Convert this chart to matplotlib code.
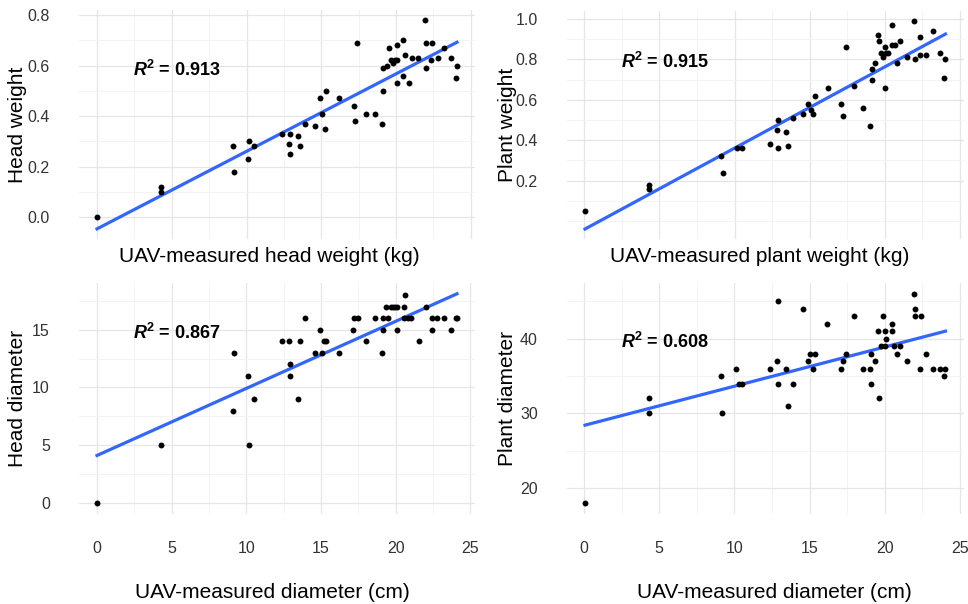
import matplotlib
matplotlib.use("Agg")
import matplotlib.pyplot as plt
import numpy as np

plt.rcParams['font.family'] = ['Liberation Sans', 'DejaVu Sans']
plt.rcParams['mathtext.fontset'] = 'custom'
plt.rcParams['mathtext.bf'] = 'Liberation Sans:bold'
plt.rcParams['mathtext.bfit'] = 'Liberation Sans:bold:italic'

# head weight vs UAV diameter
x_hw = [0, 4.29, 4.3, 9.09, 9.19, 10.1, 10.2, 10.5, 12.38, 12.89, 12.82, 12.94, 13.43, 13.58,
        13.9, 14.56, 14.9, 15.05, 15.23, 15.34, 16.2, 17.16, 17.4, 17.25, 17.96, 18.58, 19.05,
        19.14, 19.12, 19.37, 19.52, 19.65, 19.81, 19.92, 20.06, 20.06, 20.04, 20.5, 20.5, 20.62,
        20.84, 21.04, 21.5, 21.96, 22.0, 22.38, 22.03, 22.34, 22.79, 23.23, 23.7, 24.08, 24.0]
y_hw = [0.0, 0.12, 0.10, 0.28, 0.18, 0.23, 0.30, 0.28, 0.33, 0.33, 0.29, 0.25, 0.32, 0.28,
        0.37, 0.36, 0.47, 0.41, 0.35, 0.50, 0.47, 0.44, 0.69, 0.38, 0.41, 0.41, 0.37,
        0.50, 0.59, 0.60, 0.67, 0.62, 0.61, 0.62, 0.62, 0.68, 0.53, 0.70, 0.56, 0.64,
        0.53, 0.63, 0.63, 0.78, 0.69, 0.69, 0.59, 0.62, 0.63, 0.67, 0.63, 0.60, 0.55]

# plant weight
x_pw = [0.05, 4.28, 4.32, 9.09, 9.2, 10.18, 10.47, 12.37, 12.9, 12.81, 12.92, 13.41, 13.57,
        13.9, 14.57, 14.9, 15.06, 15.22, 15.33, 16.2, 17.11, 17.23, 17.4, 17.96, 18.58, 19.03,
        19.14, 19.12, 19.34, 19.52, 19.63, 19.72, 19.87, 20.0, 20.1, 20.0, 20.5, 20.5, 20.65,
        20.8, 21.03, 21.5, 21.97, 21.99, 22.37, 22.34, 22.75, 23.22, 23.68, 24.04, 23.97, 20.2]
y_pw = [0.05, 0.18, 0.16, 0.32, 0.24, 0.36, 0.36, 0.38, 0.50, 0.45, 0.36, 0.44, 0.37,
        0.51, 0.53, 0.58, 0.55, 0.53, 0.62, 0.66, 0.58, 0.52, 0.86, 0.67, 0.56, 0.47,
        0.70, 0.75, 0.78, 0.92, 0.89, 0.83, 0.81, 0.86, 0.83, 0.66, 0.97, 0.87, 0.87,
        0.78, 0.89, 0.81, 0.99, 0.80, 0.91, 0.82, 0.82, 0.94, 0.83, 0.80, 0.71, 0.83]

# head diameter
x_hd = [0, 4.29, 9.19, 9.09, 10.12, 10.2, 10.5, 12.38, 12.85, 12.94, 12.9, 13.43, 13.58, 13.9,
        14.57, 14.9, 15.03, 15.2, 15.35, 16.2, 17.16, 17.23, 17.45, 17.98, 18.58, 19.07, 19.16,
        19.14, 19.33, 19.5, 19.7, 19.83, 19.97, 20.08, 20.06, 20.53, 20.64, 20.55, 20.84, 21.04,
        21.53, 22.0, 22.4, 22.42, 22.79, 23.23, 23.72, 24.0, 24.1]
y_hd = [0, 5, 13, 8, 11, 5, 9, 14, 14, 12, 11, 9, 14, 16,
        13, 15, 13, 14, 14, 13, 15, 16, 16, 14, 16, 13, 15,
        16, 17, 16, 17, 17, 17, 17, 15, 17, 18, 16, 16, 16,
        14, 17, 16, 15, 16, 16, 15, 16, 16]

# plant diameter
x_pd = [0.07, 4.34, 4.3, 9.1, 9.2, 10.1, 10.3, 10.5, 12.37, 12.81, 12.9, 12.92, 13.42, 13.57,
        13.9, 14.54, 14.9, 15.03, 15.35, 15.2, 16.19, 17.1, 17.2, 17.4, 17.95, 18.57, 19.0,
        19.12, 19.1, 19.33, 19.63, 19.52, 19.72, 19.9, 20.0, 20.05, 20.07, 20.5, 20.5, 20.62,
        20.82, 21.04, 21.5, 21.95, 22.0, 22.0, 22.38, 22.33, 22.76, 23.23, 23.68, 24.04, 23.97]
y_pd = [18, 32, 30, 35, 30, 36, 34, 34, 36, 37, 45, 34, 36, 31,
        34, 44, 37, 38, 38, 36, 42, 36, 37, 38, 43, 36, 36,
        38, 34, 37, 32, 41, 39, 43, 39, 41, 40, 42, 41, 39,
        38, 39, 37, 46, 44, 43, 43, 36, 38, 36, 36, 36, 35]

r2_labels = ['0.913', '0.915', '0.867', '0.608']
y_titles = ['Head weight', 'Plant weight', 'Head diameter', 'Plant diameter']
x_titles = ['UAV-measured head weight (kg)', 'UAV-measured plant weight (kg)',
            'UAV-measured diameter (cm)', 'UAV-measured diameter (cm)']
x_ticks = [0, 5, 10, 15, 20, 25]
y_ticks = [[0.0, 0.2, 0.4, 0.6, 0.8], [0.2, 0.4, 0.6, 0.8, 1.0], [0, 5, 10, 15], [20, 30, 40]]
y_minor = [[0.1, 0.3, 0.5, 0.7], [0.0, 0.1, 0.3, 0.5, 0.7, 0.9], [2.5, 7.5, 12.5, 17.5], [25, 35, 45]]
y_fmt = ['{:.1f}', '{:.1f}', '{:g}', '{:g}']

W, H = 968, 604
fig = plt.figure(figsize=(W / 100, H / 100), dpi=100)

# panel boxes in pixels: left, top, right, bottom
boxes = [(79, 9.6, 475, 239.3), (567, 10.6, 963.5, 239.4),
         (79, 283.3, 475, 513.5), (567, 283.3, 963.5, 513.7)]
r2_pos = [(2.41, 0.558), (2.45, 0.755), (2.43, 14.16), (2.45, 38.72)]
xlab_x = [0.48, 0.486, 0.488, 0.522]
ylab_px = [18, 507.5, 18, 507.5]

datasets = [(x_hw, y_hw), (x_pw, y_pw), (x_hd, y_hd), (x_pd, y_pd)]

for i, (xs, ys) in enumerate(datasets):
    l, t, r, b = boxes[i]
    ax = fig.add_axes([l / W, 1 - b / H, (r - l) / W, (b - t) / H])
    xs = np.array(xs)
    ys = np.array(ys)

    slope, icpt = np.polyfit(xs, ys, 1)
    xl = np.array([xs.min(), xs.max()])
    ax.plot(xl, icpt + slope * xl, color='#3366FF', lw=2.3, zorder=2)
    ax.scatter(xs, ys, s=18, color='black', zorder=3, linewidths=0)

    ax.margins(0.05)
    ax.set_xticks(x_ticks)
    ax.set_xticks([2.5, 7.5, 12.5, 17.5, 22.5], minor=True)
    ax.set_yticks(y_ticks[i])
    ax.set_yticks(y_minor[i], minor=True)
    ax.set_yticklabels([y_fmt[i].format(v) for v in y_ticks[i]])
    ax.grid(which='major', color='#e6e6e6', lw=0.9)
    ax.grid(which='minor', color='#f3f3f3', lw=0.7)
    ax.set_axisbelow(True)
    for s in ax.spines.values():
        s.set_visible(False)
    ax.tick_params(which='both', length=0, labelsize=11.5, labelcolor='#333333')
    ax.tick_params(axis='y', pad=21)
    ax.tick_params(axis='x', pad=20)
    if i < 2:
        ax.tick_params(axis='x', labelbottom=False)

    ax.set_xlabel(x_titles[i], fontsize=15)
    ax.xaxis.label.set_verticalalignment('center')
    if i < 2:
        ax.xaxis.set_label_coords(xlab_x[i], -(257 - b) / (b - t))
    else:
        ax.xaxis.set_label_coords(xlab_x[i], -(592 - b) / (b - t))
    ax.set_ylabel(y_titles[i], fontsize=15)
    ax.yaxis.label.set_verticalalignment('center')
    ax.yaxis.set_label_coords(-(l - ylab_px[i]) / (r - l), 0.5)

    ax.text(r2_pos[i][0], r2_pos[i][1], r'$\mathbfit{R}^{\mathbf{2}}$ = ' + r2_labels[i],
            fontsize=13, fontweight='bold', ha='left', va='baseline')

fig.savefig('out.png', dpi=100)
